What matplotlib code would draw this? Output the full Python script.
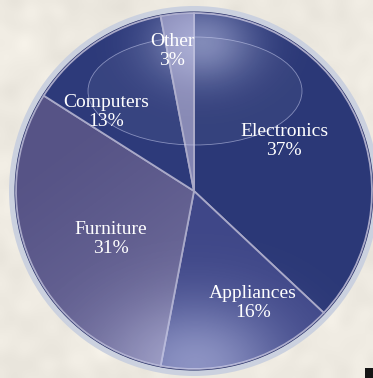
import numpy as np
import matplotlib
matplotlib.use("Agg")
import matplotlib.pyplot as plt
from matplotlib.patches import Circle, Ellipse, Rectangle
from numpy.fft import fft2, ifft2

# Sales share by category
categories = ["Electronics", "Appliances", "Furniture", "Computers", "Other"]
shares = [37, 16, 31, 13, 3]
slice_colors = ["#2b3877", "#3f4788", "#565386", "#2d3a7a", "#8284b2"]

W, H = 373, 378
fig = plt.figure(figsize=(W / 100, H / 100), dpi=100)
ax = fig.add_axes([0, 0, 1, 1])

# parchment-like backdrop
rng = np.random.default_rng(7)
noise = rng.normal(size=(H // 4 + 2, W // 4 + 2))
k = np.outer(np.hanning(noise.shape[0]), np.hanning(noise.shape[1]))
smooth = np.real(ifft2(fft2(noise) * np.fft.fftshift(k) ** 5))
smooth = (smooth - smooth.mean()) / (smooth.std() + 1e-9)
base = np.array([238, 234, 225]) / 255.0
tex = base[None, None, :] + 0.010 * smooth[..., None]
ax.imshow(np.clip(tex, 0, 1), extent=(0, W, 0, H), interpolation="bicubic", zorder=0, aspect="auto")

cx, cy, R = 194, 187, 178

# outer pale rim
ax.add_patch(Circle((cx, cy), R + 7, facecolor="#cbd1df", edgecolor="none", zorder=1))
ax.add_patch(Circle((cx, cy), R + 1.5, facecolor="#1c2560", edgecolor="none", zorder=1.5))

wedges, texts = ax.pie(
    shares, startangle=90, counterclock=False, radius=R, center=(cx, cy),
    colors=slice_colors,
    wedgeprops=dict(edgecolor="#a9a9c8", linewidth=1.3),
)
for w in wedges:
    w.set_zorder(2)

# soft lighting over the disc
yy, xx = np.mgrid[0:H, 0:W]
row = yy            # distance from top edge
yy = H - yy
glow = np.zeros((H, W, 4))
glow[..., :3] = np.array([0.80, 0.82, 0.96])
d_bottom = np.hypot((xx - 195) / 95.0, (yy - (H - 365)) / 70.0)
d_top = np.hypot((xx - 202) / 55.0, (yy - (H - 42)) / 42.0)
alpha = 0.55 * np.exp(-d_bottom ** 2 * 1.2) + 0.5 * np.exp(-d_top ** 2 * 1.1)
glow[..., 3] = np.clip(alpha, 0, 1)
disc = Circle((cx, cy), R, transform=ax.transData)
im = ax.imshow(glow, extent=(0, W, 0, H), origin="upper", zorder=3, aspect="auto")
im.set_clip_path(disc)

# extra lightening toward lower-right of the furniture slice
d_furn = np.clip(((xx - 40) * 0.6 + (row - 140) * 0.8) / 260.0, 0, 1)
furn = np.zeros((H, W, 4))
furn[..., :3] = np.array([0.72, 0.72, 0.85])
furn[..., 3] = 0.35 * d_furn ** 1.5
im2 = ax.imshow(furn, extent=(0, W, 0, H), origin="upper", zorder=3, aspect="auto")
im2.set_clip_path(wedges[2])

# glassy highlight ellipse
ax.add_patch(Ellipse((195, H - 91), 214, 108, facecolor=(1, 1, 1, 0.05),
                     edgecolor=(0.8, 0.82, 0.95, 0.55), linewidth=0.6, zorder=4))

# slice labels
label_pos = [(284, H - 141), (253, H - 303), (111, H - 239), (106, H - 112), (172, H - 51)]
for name, val, (lx, ly) in zip(categories, shares, label_pos):
    ax.text(lx, ly, f"{name}\n{val}%", ha="center", va="center", color="white",
            fontsize=14, family="Liberation Serif", linespacing=1.12, zorder=6)

# corner marker
ax.add_patch(Rectangle((365, 0), 8, 10, facecolor="#151515", edgecolor="none", zorder=6))

ax.set_xlim(0, W)
ax.set_ylim(0, H)
ax.set_aspect("auto")
ax.set_axis_off()
fig.savefig("out.png", dpi=100)
